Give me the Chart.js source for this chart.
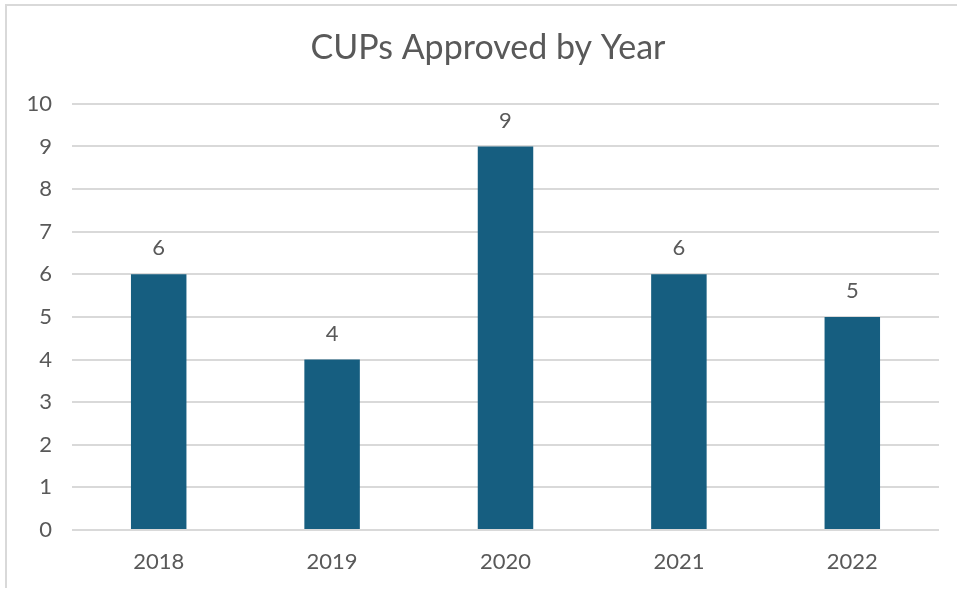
<!DOCTYPE html>
<html>
<head>
<meta charset="utf-8">
<script src="https://cdn.jsdelivr.net/npm/chart.js@4.4.0/dist/chart.umd.min.js"></script>
<style>
  body { margin: 0; background: #fff; }
  #wrap { position: absolute; left: 0; top: 0; width: 957px; height: 590px; }
  #frame { position: absolute; left: 5px; top: 4px; width: 960px; height: 582px;
           border-left: 2px solid #d9d9d9; border-top: 2px solid #d9d9d9; }
  canvas { position: absolute; left: 0; top: 0; }
</style>
</head>
<body>
<div id="wrap">
  <div id="frame"></div>
  <canvas id="cups" width="957" height="590"></canvas>
</div>
<script>
var years = ['2018', '2019', '2020', '2021', '2022'];
var approved = [6, 4, 9, 6, 5];
var yTicks = [0, 1, 2, 3, 4, 5, 6, 7, 8, 9, 10];

var grey = '#595959';
var fontName = 'Lato, "Open Sans", sans-serif';

// value labels above each bar
var barLabels = {
    id: 'barLabels',
    afterLayout: function(chart){
        // title sits a bit right of centre in the original
        var t = chart.titleBlock;
        t.left = 37;
        t.right = chart.chartArea.right;
        t.width = t.right - t.left;
    },
    afterDatasetsDraw: function(chart){
        var ctx = chart.ctx;
        var meta = chart.getDatasetMeta(0);
        ctx.save();
        ctx.fillStyle = grey;
        ctx.font = '22px ' + fontName;
        ctx.textAlign = 'center';
        ctx.textBaseline = 'middle';
        meta.data.forEach(function(bar, i){
            ctx.fillText(approved[i], bar.x, bar.y - 26);
        });
        ctx.restore();
    }
};

var ctx = document.getElementById('cups').getContext('2d');
var chart = new Chart(ctx, {
    type: 'bar',
    data: {
        labels: years,
        datasets: [{
            data: approved,
            backgroundColor: '#165e80',
            barPercentage: 0.32,
            categoryPercentage: 1
        }]
    },
    options: {
        responsive: false,
        animation: false,
        layout: { padding: { left: 0, right: 18, top: 0, bottom: 0 } },
        plugins: {
            legend: { display: false },
            tooltip: { enabled: false },
            title: {
                display: true,
                text: 'CUPs Approved by Year',
                color: grey,
                font: { family: fontName, size: 34, weight: 'normal' },
                padding: { top: 28, bottom: 35 }
            }
        },
        scales: {
            x: {
                grid: { display: false, drawTicks: false },
                border: { display: false },
                ticks: { color: grey, font: { family: fontName, size: 22 }, padding: 19 },
                afterFit: function(s){ s.height = 60; }
            },
            y: {
                min: 0,
                max: 10,
                afterBuildTicks: function(s){ s.ticks = yTicks.map(function(v){ return { value: v }; }); },
                grid: { color: '#d9d9d9', lineWidth: 2, drawTicks: false },
                border: { display: false },
                ticks: { color: grey, font: { family: fontName, size: 22 }, padding: 20 },
                afterFit: function(s){ s.width = 72; }
            }
        }
    },
    plugins: [barLabels]
});
</script>
</body>
</html>
